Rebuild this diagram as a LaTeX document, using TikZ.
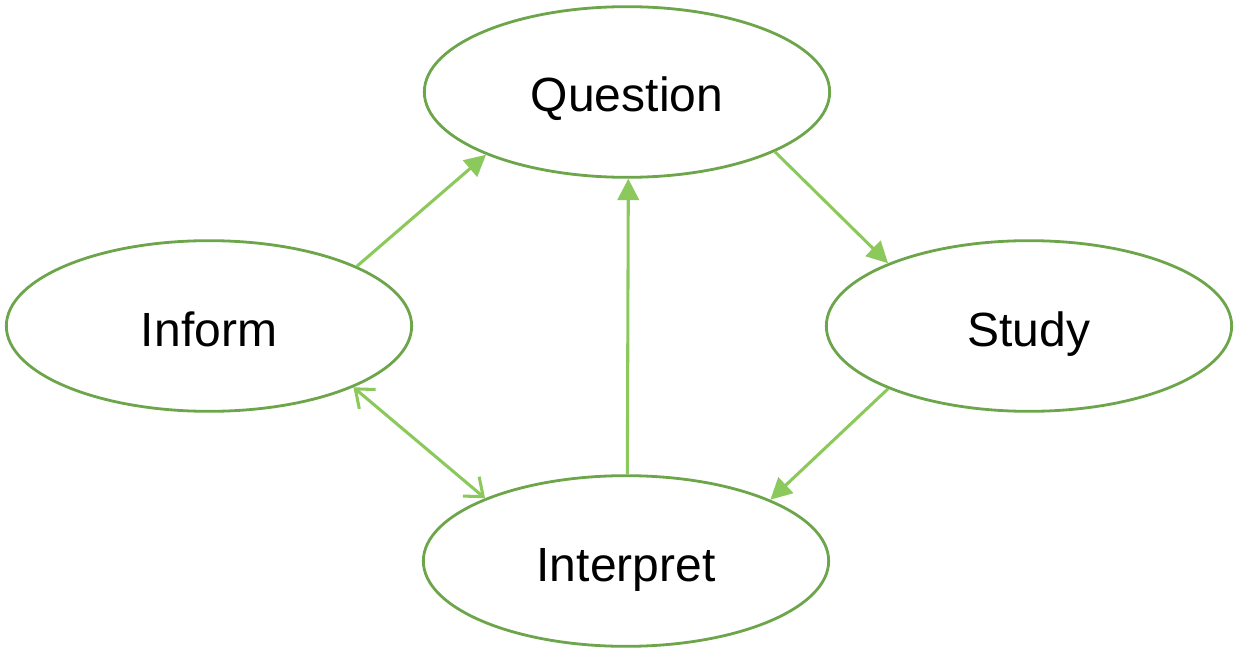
\documentclass[tikz,border=0pt]{standalone}
\usepackage{fontspec}
\setmainfont{Liberation Sans}
\usetikzlibrary{shapes.geometric,arrows.meta}
\definecolor{ellgreen}{RGB}{108,165,74}
\definecolor{arrgreen}{RGB}{140,201,92}
\tikzset{
  stage/.style={ellipse, draw=ellgreen, line width=2.1pt, fill=white,
    minimum width=304pt, minimum height=128pt, inner sep=0pt,
    text height=35pt, text depth=5pt,
    font=\fontsize{36}{40}\selectfont, text=black},
  flow/.style={draw=arrgreen, line width=2.3pt,
    -{Triangle[length=16pt,width=16pt,fill=arrgreen]}},
  both/.style={draw=arrgreen, line width=2.3pt,
    {Straight Barb[length=12pt,width=19pt,line width=2.3pt]}-{Straight Barb[length=12pt,width=19pt,line width=2.3pt]}}
}
\begin{document}
\begin{tikzpicture}[x=0.75pt,y=-0.75pt]
\useasboundingbox (0,0) rectangle (1239,649);
\node[stage] (q) at (627,92) {Question};
\node[stage] (inf) at (209,326) {Inform};
\node[stage] (s) at (1029,326) {Study};
\node[stage] (int) at (626,561) {Interpret};
\draw[flow] (inf.22.4) -- (q.204.9);
\draw[flow] (q.-22.7) -- (s.156.7);
\draw[flow] (s.204) -- (int.23.2);
\draw[flow] ([xshift=1pt]int.north) -- ([xshift=1pt]q.south);
\draw[both] (inf.-23) -- (int.156.4);
\end{tikzpicture}
\end{document}
